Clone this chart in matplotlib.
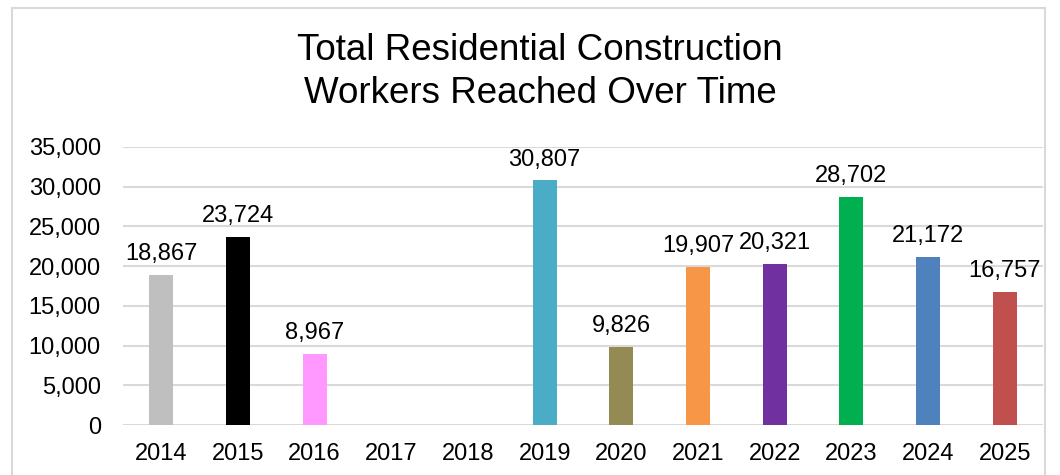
import matplotlib.pyplot as plt
from matplotlib.patches import Rectangle
from matplotlib.ticker import FuncFormatter

plt.rcParams['font.family'] = ['Liberation Sans', 'DejaVu Sans']

years = ["2014", "2015", "2016", "2017", "2018", "2019", "2020",
         "2021", "2022", "2023", "2024", "2025"]
workers = [18867, 23724, 8967, None, None, 30807, 9826,
           19907, 20321, 28702, 21172, 16757]
bar_colors = ["#bfbfbf", "#000000", "#ff99ff", "#ffffff", "#ffffff", "#4bacc6",
              "#948a54", "#f79646", "#7030a0", "#00b050", "#4f81bd", "#c0504d"]

fig = plt.figure(figsize=(10.6, 4.75), dpi=100)
ax = fig.add_axes([123 / 1060, 1 - 425 / 475, 920 / 1060, 278 / 475])

# outer chart border
fig.patches.append(Rectangle((12 / 1060, -0.05), (1045 - 12) / 1060, 1.05 - 8 / 475,
                             transform=fig.transFigure, fill=False,
                             edgecolor="#d9d9d9", linewidth=1.5))

x = range(len(years))
heights = [v if v is not None else 0 for v in workers]
ax.bar(x, heights, width=0.31, color=bar_colors, zorder=3)

for i, v in enumerate(workers):
    if v is not None:
        ax.annotate(f"{v:,}", (i, v), xytext=(0, 7), textcoords="offset points",
                    ha="center", va="bottom", fontsize=17)

ax.set_xlim(-0.5, len(years) - 0.5)
ax.set_ylim(0, 35000)
ax.set_yticks(range(0, 35001, 5000))
ax.yaxis.set_major_formatter(FuncFormatter(lambda v, p: f"{int(v):,}"))
ax.set_xticks(list(x))
ax.set_xticklabels(years)
ax.tick_params(axis="both", length=0, labelsize=17)
ax.tick_params(axis="y", pad=16)
ax.tick_params(axis="x", pad=13)
ax.grid(axis="y", color="#d9d9d9", linewidth=1.5, zorder=0)
for s in ax.spines.values():
    s.set_visible(False)

fig.text(540 / 1060, 1 - 72 / 475, "Total Residential Construction\nWorkers Reached Over Time",
         ha="center", va="center", fontsize=26.5, linespacing=1.3)

fig.savefig("out.png", dpi=100)
